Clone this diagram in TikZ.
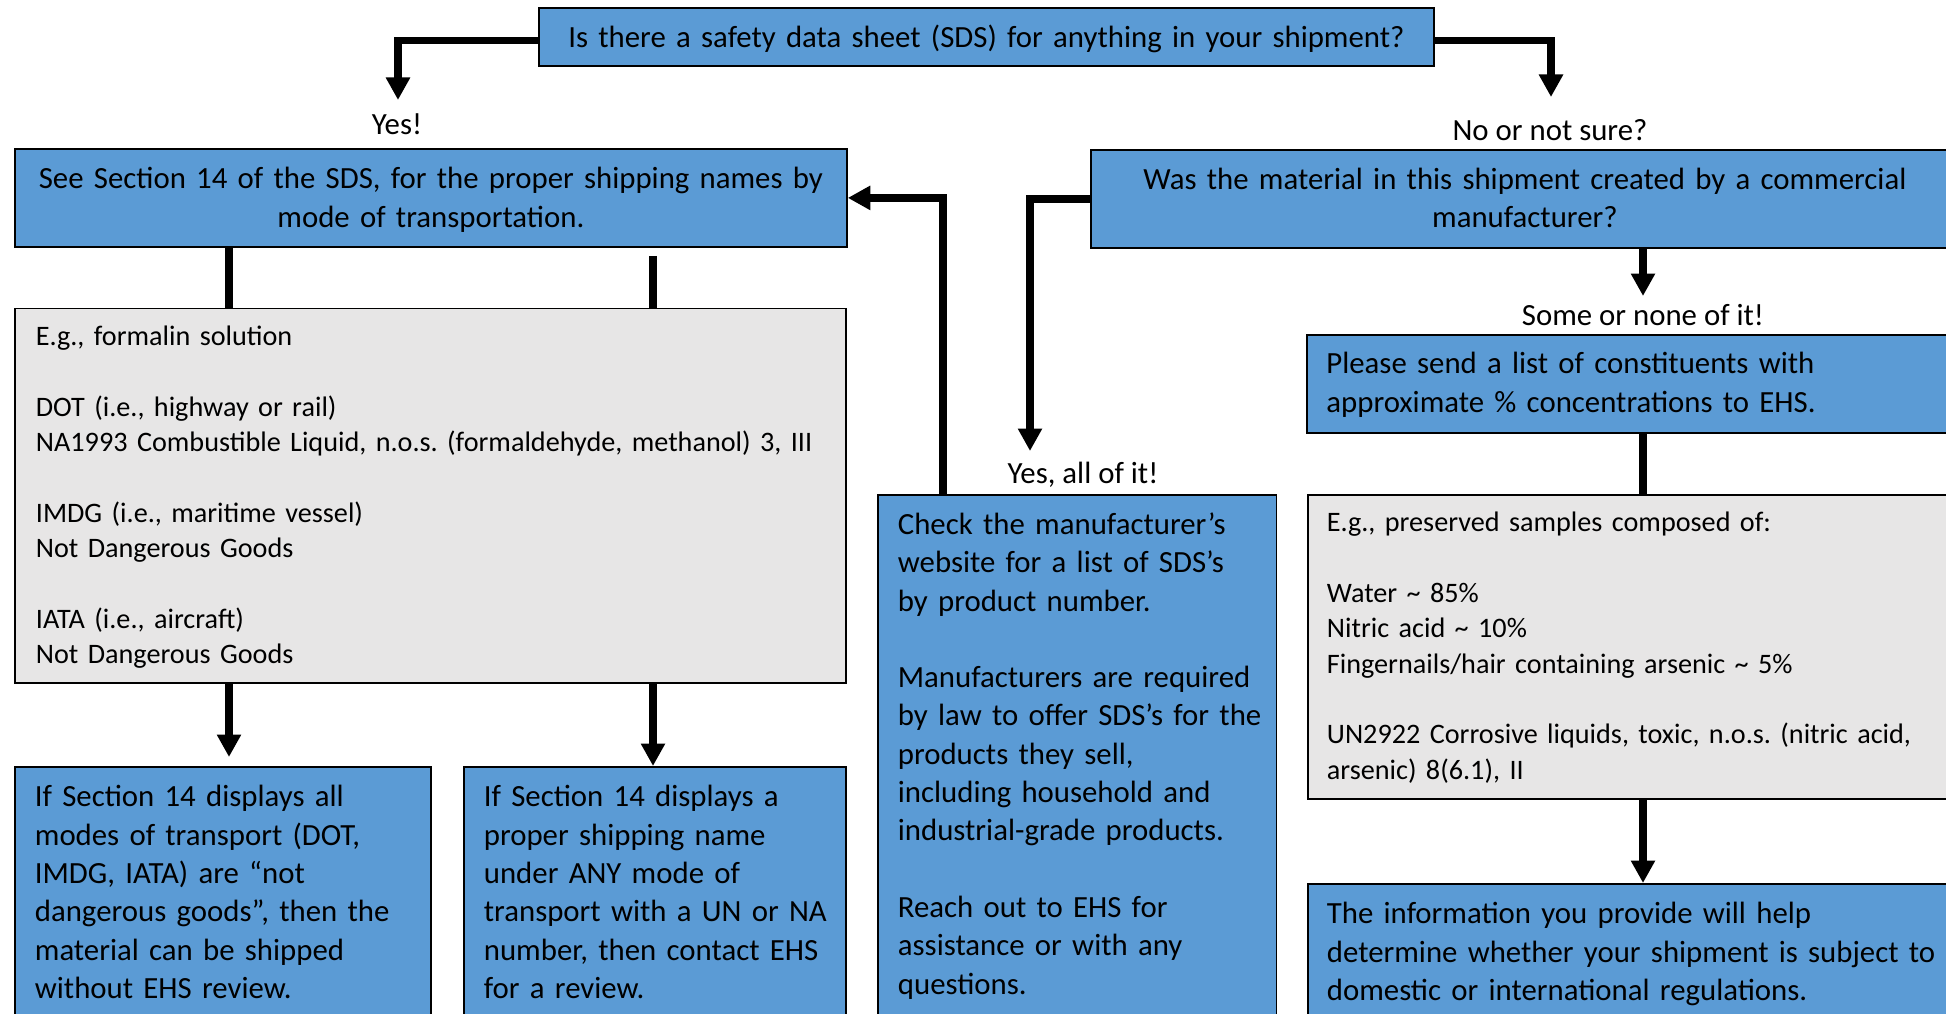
\documentclass[tikz,border=0pt]{standalone}
\usepackage{fontspec}
\setmainfont{Carlito}
\frenchspacing
\usetikzlibrary{arrows.meta}
\definecolor{boxblue}{HTML}{5B9BD5}
\definecolor{boxgrey}{HTML}{E7E6E6}
\begin{document}
\begin{tikzpicture}[x=1pt, y=-1pt, every node/.style={inner sep=0pt},
  bluebox/.style={draw=black, line width=1.8pt, fill=boxblue, anchor=north west, font=\fontsize{30.8}{38.3}\selectfont},
  greybox/.style={draw=black, line width=1.8pt, fill=boxgrey, anchor=north west, align=left, font=\fontsize{28.2}{35.3}\selectfont},
  lbl/.style={anchor=base, font=\fontsize{30.8}{38.3}\selectfont},
  flow/.style={line width=7.5pt, -{Triangle[width=23pt,length=22.5pt]}},
  link/.style={line width=7.5pt}]
\path[use as bounding box, fill=white] (0,0) rectangle (1946,1014);
\clip (0,0) rectangle (1946,1014);

\node (sds) [bluebox, align=center, text width=895pt, text height=40pt, text depth=18.5pt] at (538,7) {Is there a safety data sheet (SDS) for anything in your shipment?};
\node (sec) [bluebox, align=center, text width=832pt, text height=40pt, text depth=58pt] at (14,148) {See Section 14 of the SDS, for the proper shipping names by\\mode of transportation.};
\node (was) [bluebox, align=center, text width=868pt, text height=39.5pt, text depth=58.5pt] at (1090,149) {Was the material in this shipment created by a commercial\\manufacturer?};

\node (ex1) [greybox, inner xsep=21pt, text width=789pt, text height=37.5pt, text depth=337pt] at (14,307.5) {E.g., formalin solution\\[35.3pt]DOT (i.e., highway or rail)\\\mbox{NA1993 Combustible Liquid, n.o.s. (formaldehyde, methanol) 3, III}\\[35.3pt]IMDG (i.e., maritime vessel)\\Not Dangerous Goods\\[35.3pt]IATA (i.e., aircraft)\\Not Dangerous Goods};
\node (b1) [bluebox, align=left, inner xsep=20pt, text width=376pt, text height=40pt, text depth=224pt] at (14,766) {If Section 14 displays all\\modes of transport (DOT,\\IMDG, IATA) are “not\\\mbox{dangerous goods”, then the}\\material can be shipped\\without EHS review.};
\node (b2) [bluebox, align=left, inner xsep=20pt, text width=342pt, text height=40pt, text depth=224pt] at (463,766) {If Section 14 displays a\\proper shipping name\\under ANY mode of\\\mbox{transport with a UN or NA}\\\mbox{number, then contact EHS}\\for a review.};
\node (chk) [bluebox, align=left, inner xsep=20pt, text width=358.5pt, text height=39.5pt, text depth=496.5pt] at (877,494) {Check the manufacturer’s\\website for a list of SDS’s\\by product number.\\[38.3pt]\mbox{Manufacturers are required}\\\mbox{by law to offer SDS’s for the}\\products they sell,\\including household and\\\mbox{industrial-grade products.}\\[38.3pt]Reach out to EHS for\\assistance or with any\\questions.};

\node (please) [bluebox, align=left, inner xsep=19.5pt, text width=640pt, text height=39pt, text depth=59pt] at (1306,334) {Please send a list of constituents with\\approximate \% concentrations to EHS.};
\node (ex2) [greybox, inner xsep=19pt, text width=640pt, text height=37pt, text depth=267pt] at (1307,494) {E.g., preserved samples composed of:\\[35.3pt]Water \textasciitilde{} 85\%\\Nitric acid \textasciitilde{} 10\%\\Fingernails/hair containing arsenic \textasciitilde{} 5\%\\[35.3pt]UN2922 Corrosive liquids, toxic, n.o.s. (nitric acid,\\arsenic) 8(6.1), II};
\node (info) [bluebox, align=left, inner xsep=19pt, text width=640pt, text height=40pt, text depth=107pt] at (1307,883) {The information you provide will help\\determine whether your shipment is subject to\\domestic or international regulations.};

\node (yes) [lbl] at (397,135) {Yes!};
\node (nosure) [lbl] at (1550,141) {No or not sure?};
\node (some) [lbl] at (1643,325.5) {Some or none of it!};
\node (all) [lbl] at (1083,483) {Yes, all of it!};

\coordinate (yestip) at (398,100);
\coordinate (notip) at (1551,97);
\coordinate (alltip) at (1030,451);
\coordinate (sometip) at (1643,296);
\coordinate (colA) at (229,0);
\coordinate (colB) at (653,0);
\coordinate (colC) at (943,0);
\coordinate (colE) at (1643,0);

\draw[flow] ([yshift=-3.5pt]sds.west) -| (yestip);
\draw[flow] ([yshift=-3.5pt]sds.east) -| (notip);
\draw[link] (sec.south -| colA) -- (ex1.north -| colA);
\draw[link, shorten <=8pt] (sec.south -| colB) -- (ex1.north -| colB);
\draw[flow, shorten >=9pt] (ex1.south -| colA) -- (b1.north -| colA);
\draw[flow] (ex1.south -| colB) -- (b2.north -| colB);
\draw[flow] (chk.north -| colC) |- (sec.east);
\draw[flow] (was.west) -| (alltip);
\draw[flow] (was.south -| sometip) -- (sometip);
\draw[link] (please.south -| colE) -- (ex2.north -| colE);
\draw[flow] (ex2.south -| colE) -- (info.north -| colE);
\end{tikzpicture}
\end{document}
